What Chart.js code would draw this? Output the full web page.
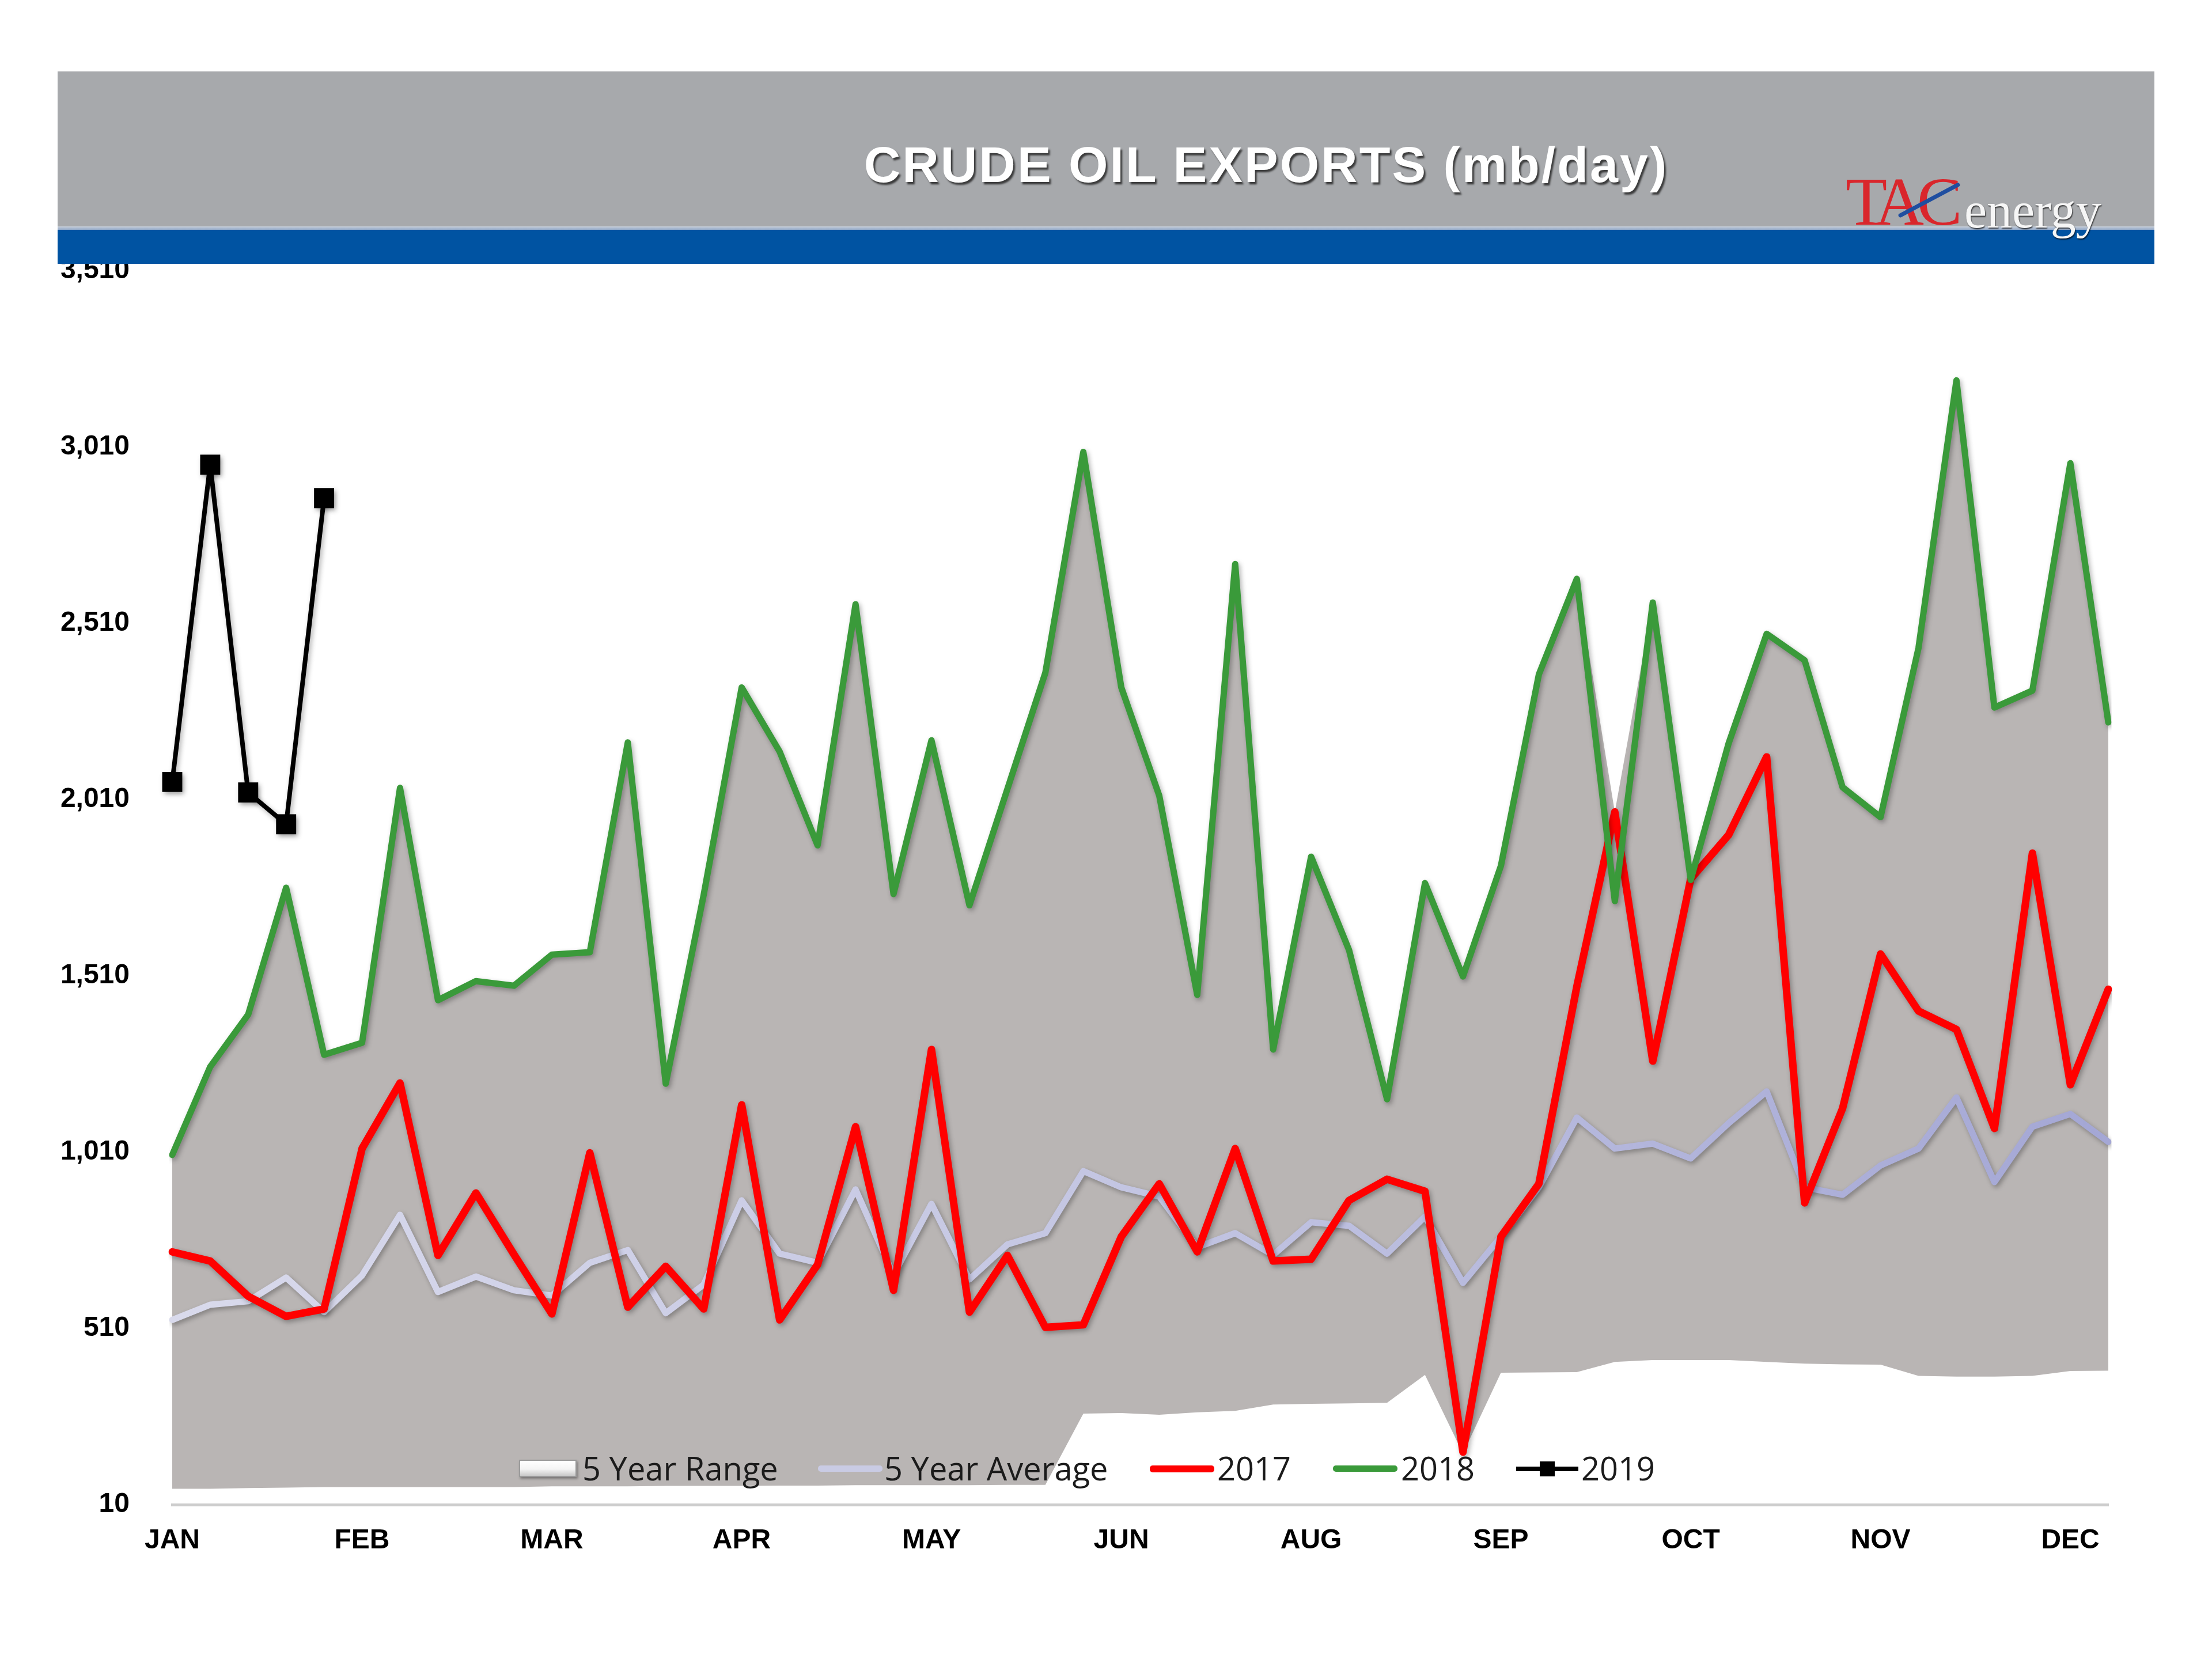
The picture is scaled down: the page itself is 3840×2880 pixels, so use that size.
<!DOCTYPE html>
<html>
<head>
<meta charset="utf-8">
<script src="https://cdn.jsdelivr.net/npm/chart.js@4.4.1/dist/chart.umd.min.js"></script>
<style>
  html, body { margin: 0; padding: 0; background: #ffffff; }
  #wrap { position: relative; width: 3840px; height: 2880px; overflow: hidden; background: #fff; }
  #c { position: absolute; left: 0; top: 0; }
  #hdrGray { position: absolute; left: 100px; top: 124px; width: 3640px; height: 269px; background: #A7A9AC; }
  #hdrLine { position: absolute; left: 100px; top: 393px; width: 3640px; height: 6px; background: linear-gradient(#c9cfd9, #8fa7c8); }
  #hdrBlue { position: absolute; left: 100px; top: 399px; width: 3640px; height: 59px; background: #0053A2; }
  #title { position: absolute; left: 1198px; top: 242px; width: 2000px; text-align: center;
    font-family: "Liberation Sans", Arial, sans-serif; font-weight: bold; font-size: 88px; line-height: 88px;
    letter-spacing: 3px; color: #ffffff; text-shadow: 3px 4px 3px rgba(40,40,40,0.85); white-space: nowrap; }
  #logoTAC { position: absolute; left: 3204px; top: 292px; font-family: "Liberation Serif", "Times New Roman", serif;
    font-size: 118px; line-height: 118px; letter-spacing: -12px; color: #D9262C; white-space: nowrap; }
  #logoEnergy { position: absolute; left: 3410px; top: 322px; font-family: "Liberation Serif", "Times New Roman", serif;
    font-size: 88px; line-height: 88px; color: #f6f6f6; text-shadow: 1px 2px 2px rgba(0,0,0,0.7); white-space: nowrap; }
  #swoosh { position: absolute; left: 3296px; top: 372px; width: 120px; height: 7px; background: #1f4ea0;
    transform: rotate(-28deg); transform-origin: left center; border-radius: 4px; }
  .lg { position: absolute; font-family: "Open Sans", "Noto Sans", sans-serif; font-size: 56px; line-height: 56px;
    color: #1b1b1b; white-space: nowrap; top: 2520px; }
  .sw { position: absolute; }
</style>
</head>
<body>
<div id="wrap">
  <canvas id="c" width="3840" height="2880"></canvas>
  <div id="hdrGray"></div>
  <div id="hdrLine"></div>
  <div id="hdrBlue"></div>
  <div id="title">CRUDE OIL EXPORTS (mb/day)</div>
  <div id="logoTAC">TAC</div>
  <div id="swoosh"></div>
  <div id="logoEnergy">energy</div>

  <div class="sw" style="left:901px; top:2534px; width:100px; height:30px; box-sizing:border-box; border:2px solid #9a9a9a; background:linear-gradient(#ffffff 0%, #f4f4f4 55%, #c9c9c9 100%); box-shadow:2px 3px 4px rgba(0,0,0,0.35);"></div>
  <div class="lg" style="left:1011px;">5 Year Range</div>

  <div class="sw" style="left:1420px; top:2544px; width:112px; height:11px; border-radius:5px; background:#C9CBE4;"></div>
  <div class="lg" style="left:1535px;">5 Year Average</div>

  <div class="sw" style="left:1996px; top:2544px; width:112px; height:12px; border-radius:5px; background:#FF0000;"></div>
  <div class="lg" style="left:2113px;">2017</div>

  <div class="sw" style="left:2314px; top:2544px; width:112px; height:11px; border-radius:5px; background:#3A9A3A;"></div>
  <div class="lg" style="left:2432px;">2018</div>

  <div class="sw" style="left:2632px; top:2546px; width:108px; height:8px; background:#000;"></div>
  <div class="sw" style="left:2673px; top:2537px; width:26px; height:26px; background:#000;"></div>
  <div class="lg" style="left:2745px;">2019</div>
</div>
<script>
// ---- data ----
const weeks = [1,2,3,4,5,6,7,8,9,10,11,12,13,14,15,16,17,18,19,20,21,22,23,24,25,26,
               27,28,29,30,31,32,33,34,35,36,37,38,39,40,41,42,43,44,45,46,47,48,49,50,51,52];
const monthTicks = ['JAN','FEB','MAR','APR','MAY','JUN','AUG','SEP','OCT','NOV','DEC'];
const yTicks = [10, 510, 1010, 1510, 2010, 2510, 3010, 3510];

const y2019 = [2060, 2960, 2030, 1940, 2865];
const y2018 = [1002,1252,1400,1760,1286,1320,2043,1441,1495,1482,1570,1577,2172,1204,1740,2328,2146,1880,2564,1742,
               2178,1710,2040,2370,2996,2328,2021,1456,2678,1301,1848,1583,1160,1773,1508,1822,2365,2636,1722,2569,
               1782,2170,2480,2405,2045,1960,2440,3199,2271,2319,2964,2229];
const y2017 = [727,701,601,544,565,1020,1206,717,894,720,551,1008,570,686,565,1144,534,691,1082,618,
               1301,556,717,513,520,770,920,727,1020,701,706,873,933,899,159,770,920,1480,1975,1268,
               1785,1910,2131,866,1134,1572,1410,1358,1077,1858,1201,1472];
const avg5 = [534,577,587,654,556,660,832,613,657,618,603,696,732,553,634,873,722,696,904,662,
              863,649,748,780,956,910,884,740,780,718,811,801,722,827,639,770,910,1108,1020,1034,
              992,1092,1182,910,889,972,1020,1165,925,1082,1118,1039];
const rangeMax = [1002,1252,1400,1760,1286,1320,2043,1441,1495,1482,1570,1577,2172,1204,1740,2328,2146,1880,2564,1742,
                  2178,1710,2040,2370,2996,2328,2021,1456,2678,1301,1848,1583,1160,1773,1508,1822,2365,2636,1975,2569,
                  1782,2170,2480,2405,2045,1960,2440,3199,2271,2319,2964,2229];
const rangeMin = [55,55,57,58,60,60,60,60,60,60,62,62,62,63,63,63,64,64,65,65,
                  65,65,66,66,268,270,265,272,276,294,296,297,299,378,155,384,385,386,415,420,
                  420,420,415,410,408,407,375,373,373,375,389,390];

// ---- chart ----
const AREA_LEFT = 299, AREA_RIGHT = 3660, AREA_TOP = 470, AREA_BOTTOM = 2612;
const W = 3840, H = 2880;

function avgGradient(context) {
  const chart = context.chart;
  const ca = chart.chartArea;
  if (!ca) return '#C4C6E2';
  const g = chart.ctx.createLinearGradient(ca.left, 0, ca.right, 0);
  g.addColorStop(0, '#D9DAEC');
  g.addColorStop(0.5, '#C3C5E2');
  g.addColorStop(1, '#A4A7D5');
  return g;
}

const shadowPlugin = {
  id: 'lineShadow',
  beforeDatasetDraw(chart, args) {
    if (args.index >= 4) return;
    const c = chart.ctx;
    c.save();
    c.shadowColor = 'rgba(0,0,0,0.30)';
    c.shadowBlur = 8;
    c.shadowOffsetX = 3;
    c.shadowOffsetY = 4;
  },
  afterDatasetDraw(chart, args) {
    if (args.index >= 4) return;
    chart.ctx.restore();
  }
};

const tickFont = { family: '"Liberation Sans", Arial, sans-serif', weight: 'bold', size: 48 };

new Chart(document.getElementById('c').getContext('2d'), {
  type: 'line',
  data: {
    labels: weeks,
    datasets: [
      { label: '2019', data: y2019, borderColor: '#000000', backgroundColor: '#000000', borderWidth: 8,
        pointStyle: 'rect', pointRadius: 19, pointBackgroundColor: '#000000', pointBorderColor: '#000000', fill: false },
      { label: '2018', data: y2018, borderColor: '#3A9A3A', borderWidth: 11, pointRadius: 0, fill: false },
      { label: '2017', data: y2017, borderColor: '#FF0000', borderWidth: 13, pointRadius: 0, fill: false },
      { label: '5 Year Average', data: avg5, borderColor: avgGradient, borderWidth: 11, pointRadius: 0, fill: false },
      { label: '5 Year Range', data: rangeMax, borderWidth: 0, borderColor: 'rgba(0,0,0,0)',
        backgroundColor: '#B9B5B4', pointRadius: 0, fill: '+1' },
      { label: 'range min', data: rangeMin, borderWidth: 0, borderColor: 'rgba(0,0,0,0)', pointRadius: 0, fill: false }
    ]
  },
  options: {
    responsive: false,
    animation: false,
    devicePixelRatio: 1,
    layout: { padding: { top: AREA_TOP, right: W - AREA_RIGHT, bottom: 0, left: 0 } },
    plugins: { legend: { display: false }, tooltip: { enabled: false }, title: { display: false } },
    elements: { line: { tension: 0, borderJoinStyle: 'round', borderCapStyle: 'round' } },
    scales: {
      x: {
        type: 'category',
        offset: false,
        grid: { display: false, drawTicks: false },
        border: { display: true, color: '#CDCDCD', width: 5 },
        afterFit: s => { s.height = H - AREA_BOTTOM; },
        ticks: {
          autoSkip: false, maxRotation: 0, minRotation: 0, padding: 34, color: '#000000', font: tickFont,
          callback: (v, i) => (i % 5 === 0 ? monthTicks[i / 5] : '')
        }
      },
      y: {
        min: 10, max: 3510,
        grid: { display: false, drawTicks: false },
        border: { display: false },
        afterBuildTicks: s => { s.ticks = yTicks.map(v => ({ value: v })); },
        afterFit: s => { s.width = AREA_LEFT; },
        ticks: { padding: 74, color: '#000000', font: tickFont, callback: v => v.toLocaleString('en-US') }
      }
    }
  },
  plugins: [shadowPlugin]
});
</script>
</body>
</html>
